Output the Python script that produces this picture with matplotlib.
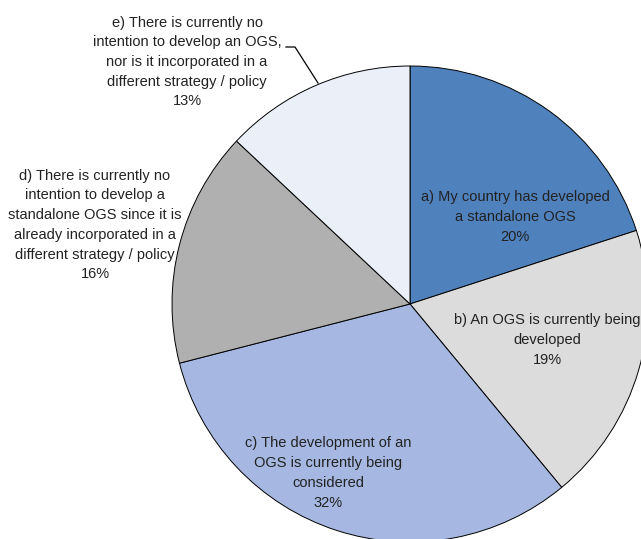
import matplotlib
matplotlib.use("Agg")
import matplotlib.pyplot as plt

# Survey answers, clockwise from 12 o'clock
labels = [
    "a) My country has developed\na standalone OGS",
    "b) An OGS is currently being\ndeveloped",
    "c) The development of an\nOGS is currently being\nconsidered",
    "d) There is currently no\nintention to develop a\nstandalone OGS since it is\nalready incorporated in a\ndifferent strategy / policy",
    "e) There is currently no\nintention to develop an OGS,\nnor is it incorporated in a\ndifferent strategy / policy",
]
shares = [20, 19, 32, 16, 13]
colors = ["#4f81bd", "#dcdcdc", "#a6b8e2", "#b0b0b0", "#ebeff8"]

# label anchor points in pixel space (x, y from top)
label_pos = [(515, 217), (547, 340), (328, 473), (95, 225), (187, 62)]

W, H = 641, 539
fig = plt.figure(figsize=(W / 100, H / 100), dpi=100)
ax = fig.add_axes([0, 0, 1, 1])

cx, cy, R = 410, H - 304, 238
ax.pie(shares, colors=colors, startangle=90, counterclock=False,
       center=(cx, cy), radius=R, frame=True,
       wedgeprops=dict(edgecolor="black", linewidth=0.7))
ax.set_xlim(0, W)
ax.set_ylim(0, H)
ax.axis("off")

for lab, val, (x, y) in zip(labels, shares, label_pos):
    ax.text(x, H - y, f"{lab}\n{val}%", ha="center", va="center",
            fontsize=10.5, color="#222222", linespacing=1.52,
            family=["Liberation Sans", "DejaVu Sans"])

# leader line for the small top-left slice
ax.plot([286, 295, 318], [H - 47, H - 47, H - 83], color="black", lw=0.9)

fig.savefig("out.png", dpi=100)
